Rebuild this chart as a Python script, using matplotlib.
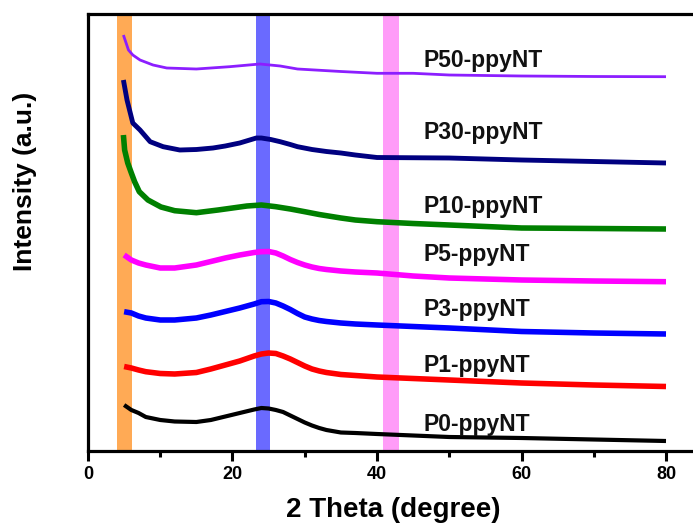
import matplotlib
matplotlib.use("Agg")
import matplotlib.pyplot as plt
from matplotlib.ticker import MultipleLocator

plt.rcParams["font.family"] = ["Liberation Sans", "DejaVu Sans"]
plt.rcParams["font.weight"] = "bold"

# stacked XRD traces (arbitrary intensity units, offsets already applied)
x_std = [5, 6, 7, 8, 10, 12, 15, 17, 19, 21, 23, 24, 25, 26, 27, 28, 29, 30, 31, 32, 33, 35, 37, 40, 45, 50, 60, 70, 80]

y_p0 = [46, 41, 38, 34, 31, 29.5, 29, 31, 34.5, 38, 41.5, 43, 42.5, 41, 39, 35.5, 32, 28.5, 25.5, 23, 21, 18.5, 18, 17, 15.5, 14, 13, 11.5, 10]
y_p1 = [84.5, 83, 81, 79.3, 77.5, 77, 78.5, 82, 86, 90, 95, 97, 98, 97.5, 95, 92, 88.5, 85, 82, 80, 78.5, 76.5, 75.5, 74, 72.5, 71, 68, 66, 64.5]
y_p3 = [139.3, 138, 135, 133, 131, 131, 133, 136, 139.5, 143, 147, 149.3, 149.5, 148, 145, 141.5, 137.5, 134, 132, 130.5, 129.5, 128, 127, 126, 124.5, 123, 119.5, 118, 117]
y_p5 = [196, 191, 188, 186, 183, 183, 186, 189.5, 193, 196, 198.5, 199.3, 199.5, 198, 195, 191.5, 188.5, 186, 184, 182.5, 181.5, 180, 179, 178, 175, 173, 171, 170, 169.3]

x_p10 = [4.9, 5.07, 5.5, 6, 6.45, 7.1, 8.3, 10.1, 12, 15, 18, 20, 22, 24, 26, 28, 30, 32, 35, 37, 40, 45, 50, 60, 70, 80]
y_p10 = [316, 301, 288, 278, 269.3, 259.3, 251, 244, 240.3, 238.3, 241, 243, 245, 246, 244.3, 242, 239.3, 236.5, 233, 231, 229.3, 227.5, 226, 223, 222.5, 222]

x_p30 = [4.9, 5.4, 6.2, 7.2, 8.6, 10.4, 12.7, 15, 17.3, 19, 21, 23.3, 24, 25.3, 26.6, 28, 29, 31, 33, 35, 37, 40, 50, 60, 70, 80]
y_p30 = [371, 351, 328, 321, 309.3, 304.3, 301, 301.5, 303, 305, 308, 313, 313, 311.5, 309.3, 306.5, 304.3, 301.5, 299.5, 298, 296, 293.5, 293, 291, 289.5, 288]

x_p50 = [4.9, 5.6, 6.2, 7.2, 9, 10.9, 15, 19.6, 23.8, 26.6, 29, 35, 40, 45, 50, 60, 70, 80]
y_p50 = [416, 401, 396, 391, 386, 383, 382, 384.3, 387, 385, 382, 379.5, 377.7, 377.7, 376, 375, 374.5, 374.3]

names = ["P0-ppyNT", "P1-ppyNT", "P3-ppyNT", "P5-ppyNT", "P10-ppyNT", "P30-ppyNT", "P50-ppyNT"]
xs = [x_std, x_std, x_std, x_std, x_p10, x_p30, x_p50]
ys = [y_p0, y_p1, y_p3, y_p5, y_p10, y_p30, y_p50]
colors = ["#000000", "#ff0000", "#0000ff", "#ff00ff", "#008000", "#000080", "#8c1eff"]
widths = [3.0, 4.0, 4.0, 4.0, 4.0, 3.5, 2.0]
label_y = [20, 79.3, 135, 190, 237.7, 311.7, 383.7]

# highlighted 2-theta regions
bands = [(4.0, 6.1, "#ffaa55"), (23.2, 25.2, "#6a6aff"), (40.8, 43.0, "#ff9cf8")]

fig = plt.figure(figsize=(6.93, 5.24), dpi=100)
ax = fig.add_axes([88 / 693, 73 / 524, 0.88, 437 / 524])

for lo, hi, c in bands:
    ax.axvspan(lo, hi, color=c, lw=0, zorder=1)

for x, y, c, w in zip(xs, ys, colors, widths):
    ax.plot(x, y, color=c, lw=w, solid_joinstyle="round", solid_capstyle="butt", zorder=2)

for name, ly in zip(names, label_y):
    ax.text(46.4, ly, name, fontsize=16.5, fontweight="bold", color="#111111", va="baseline", zorder=3)

ax.set_xlim(0, 0.88 * 693 / 7.225)
ax.set_ylim(0, 437)
ax.set_yticks([])
ax.xaxis.set_major_locator(MultipleLocator(20))
ax.xaxis.set_minor_locator(MultipleLocator(10))
ax.set_xticks([0, 20, 40, 60, 80])
ax.tick_params(axis="x", which="major", direction="out", length=7, width=2.2, labelsize=13, pad=4)
ax.tick_params(axis="x", which="minor", direction="out", length=4.5, width=2.2)
for lab in ax.get_xticklabels():
    lab.set_fontweight("bold")
for side in ["left", "bottom", "top"]:
    ax.spines[side].set_linewidth(2.3)
ax.spines["right"].set_visible(False)

fig.text(393.5 / 693, 1 - 510 / 524, "2 Theta (degree)", fontsize=20, fontweight="bold", ha="center", va="center")
fig.text(25 / 693, 1 - 181 / 524, "Intensity (a.u.)", fontsize=19, fontweight="bold", rotation=90, ha="center", va="center")

fig.savefig("out.png", dpi=100)
